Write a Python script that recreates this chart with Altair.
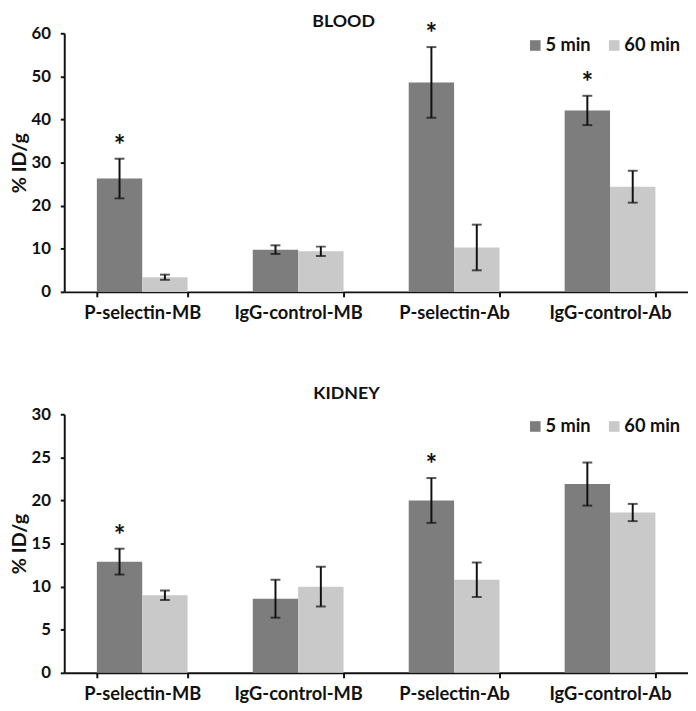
import altair as alt
import pandas as pd

categories = ["P-selectin-MB", "IgG-control-MB", "P-selectin-Ab", "IgG-control-Ab"]
times = ["5 min", "60 min"]

blood_5 = [26.3, 9.8, 48.6, 42.1]
blood_5_err = [4.6, 1.0, 8.2, 3.4]
blood_60 = [3.4, 9.4, 10.3, 24.4]
blood_60_err = [0.6, 1.1, 5.3, 3.7]
blood_star = ["*", "", "*", "*"]

kidney_5 = [12.9, 8.6, 20.0, 21.9]
kidney_5_err = [1.5, 2.2, 2.6, 2.5]
kidney_60 = [9.0, 10.0, 10.8, 18.6]
kidney_60_err = [0.55, 2.3, 2.0, 1.0]
kidney_star = ["*", "", "*", ""]

FONT = "Lato"
DARK = "#7d7d7d"
LIGHT = "#c9c9c9"
INK = "#111111"


def make_df(v5, e5, v60, e60, stars):
    rows = []
    for i, c in enumerate(categories):
        rows.append(dict(cat=c, time="5 min", val=v5[i], lo=v5[i] - e5[i], hi=v5[i] + e5[i], star=stars[i]))
        rows.append(dict(cat=c, time="60 min", val=v60[i], lo=v60[i] - e60[i], hi=v60[i] + e60[i], star=""))
    return pd.DataFrame(rows)


def panel(title, df, ymax, ystep, title_offset, title_dx):
    x = alt.X(
        "cat:N",
        sort=categories,
        scale=alt.Scale(paddingInner=0.418, paddingOuter=0.209),
        axis=alt.Axis(
            title=None, labelAngle=0, tickBand="extent", labelFontSize=18.5,
            labelFont=FONT, labelFontWeight="bold", labelColor=INK,
            labelPadding=7, tickSize=5, tickColor=INK, domainColor=INK,
            domainWidth=2, tickWidth=2,
        ),
    )
    xo = alt.XOffset("time:N", sort=times, scale=alt.Scale(paddingInner=0, paddingOuter=0))
    y = alt.Y(
        "val:Q",
        scale=alt.Scale(domain=[0, ymax], nice=False),
        axis=alt.Axis(
            title="% ID/g", values=list(range(0, ymax + 1, ystep)), grid=False,
            labelFontSize=17, labelFont=FONT, labelFontWeight="bold", labelColor=INK,
            titleFontSize=20, titleFont=FONT, titleFontWeight="bold", titleColor=INK,
            titlePadding=2, labelPadding=10, tickSize=4, tickColor=INK,
            domainColor=INK, domainWidth=2, tickWidth=2,
        ),
    )
    color = alt.Color(
        "time:N",
        sort=times,
        scale=alt.Scale(domain=times, range=[DARK, LIGHT]),
        legend=alt.Legend(
            title=None, orient="none", legendX=468, legendY=3, direction="horizontal",
            symbolType="square", symbolSize=115, symbolStrokeWidth=0,
            labelFontSize=18.5, labelFont=FONT, labelFontWeight="bold", labelColor=INK,
            columnPadding=14, labelOffset=1,
        ),
    )
    base = alt.Chart(df)
    bars = base.mark_bar().encode(x=x, xOffset=xo, y=y, color=color)
    rules = base.mark_rule(color=INK, strokeWidth=2).encode(
        x=x, xOffset=xo, y="lo:Q", y2="hi:Q"
    )
    cap_hi = base.mark_tick(color=INK, thickness=2, size=10).encode(x=x, xOffset=xo, y="hi:Q")
    cap_lo = base.mark_tick(color=INK, thickness=2, size=10).encode(x=x, xOffset=xo, y="lo:Q")
    stars = base.transform_filter(alt.datum.star != "").mark_text(
        fontSize=28, font=FONT, fontWeight="bold", color=INK, baseline="middle", dy=-12
    ).encode(x=x, xOffset=xo, y="hi:Q", text="star:N")
    return alt.layer(bars, rules, cap_hi, cap_lo, stars).properties(
        width=632, height=262,
        title=alt.TitleParams(title, fontSize=18, font=FONT, fontWeight="bold",
                              anchor="middle", frame="group", offset=title_offset,
                              dx=title_dx, color=INK),
    )


top = panel("BLOOD", make_df(blood_5, blood_5_err, blood_60, blood_60_err, blood_star), 60, 10, -10, -33)
bottom = panel("KIDNEY", make_df(kidney_5, kidney_5_err, kidney_60, kidney_60_err, kidney_star), 30, 5, 2, -30)

chart = alt.vconcat(top, bottom, spacing=64).resolve_scale(
    color="independent", y="independent"
).properties(padding={"left": 1, "top": 0, "right": 0, "bottom": 0}).configure_view(stroke=None)

chart.save("out.html", embed_options={"renderer": "svg", "actions": False})
